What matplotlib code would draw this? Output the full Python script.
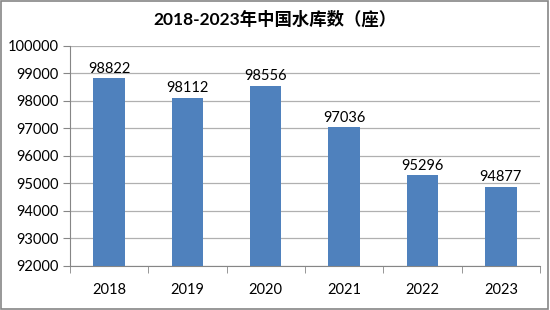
import matplotlib.pyplot as plt
import numpy as np

years = ["2018", "2019", "2020", "2021", "2022", "2023"]
reservoirs = [98822, 98112, 98556, 97036, 95296, 94877]
title = "2018-2023年中国水库数（座）"

fonts = ["Lato", "Noto Sans CJK SC", "DejaVu Sans"]
plt.rcParams["font.family"] = fonts

fig = plt.figure(figsize=(5.5, 3.1), dpi=100)
ax = fig.add_axes([0.127, 0.142, 0.855, 0.71])

x = np.arange(len(years))
bars = ax.bar(x, reservoirs, width=0.4, color="#4F81BD", zorder=3)
for xi, v in zip(x, reservoirs):
    ax.annotate(str(v), (xi, v), xytext=(0, 2), textcoords="offset points",
                ha="center", va="bottom", fontsize=10.5, color="#000000")

ax.set_ylim(92000, 100000)
ax.set_yticks(np.arange(92000, 100001, 1000))
ax.set_xlim(-0.5, len(years) - 0.5)
ax.set_xticks(x)
ax.set_xticklabels(years)
ax.set_xticks(np.arange(-0.5, len(years)), minor=True)
ax.tick_params(axis="x", which="major", length=0, pad=12, labelsize=10.5)
ax.tick_params(axis="x", which="minor", length=5, color="#868686")
ax.tick_params(axis="y", length=5, color="#868686", labelsize=10.5, pad=3)

ax.grid(axis="y", color="#B0B0B0", linewidth=0.9, zorder=0)
for s in ["top", "right"]:
    ax.spines[s].set_visible(False)
for s in ["left", "bottom"]:
    ax.spines[s].set_color("#868686")

fig.text(0.5, 0.94, title, ha="center", va="center", fontsize=12.5,
         fontweight="bold")

fig.patches.append(plt.Rectangle((0.002, 0.003), 0.995, 0.993, transform=fig.transFigure,
                                 fill=False, edgecolor="#868686", linewidth=1.2))

fig.savefig("out.png", dpi=100)
